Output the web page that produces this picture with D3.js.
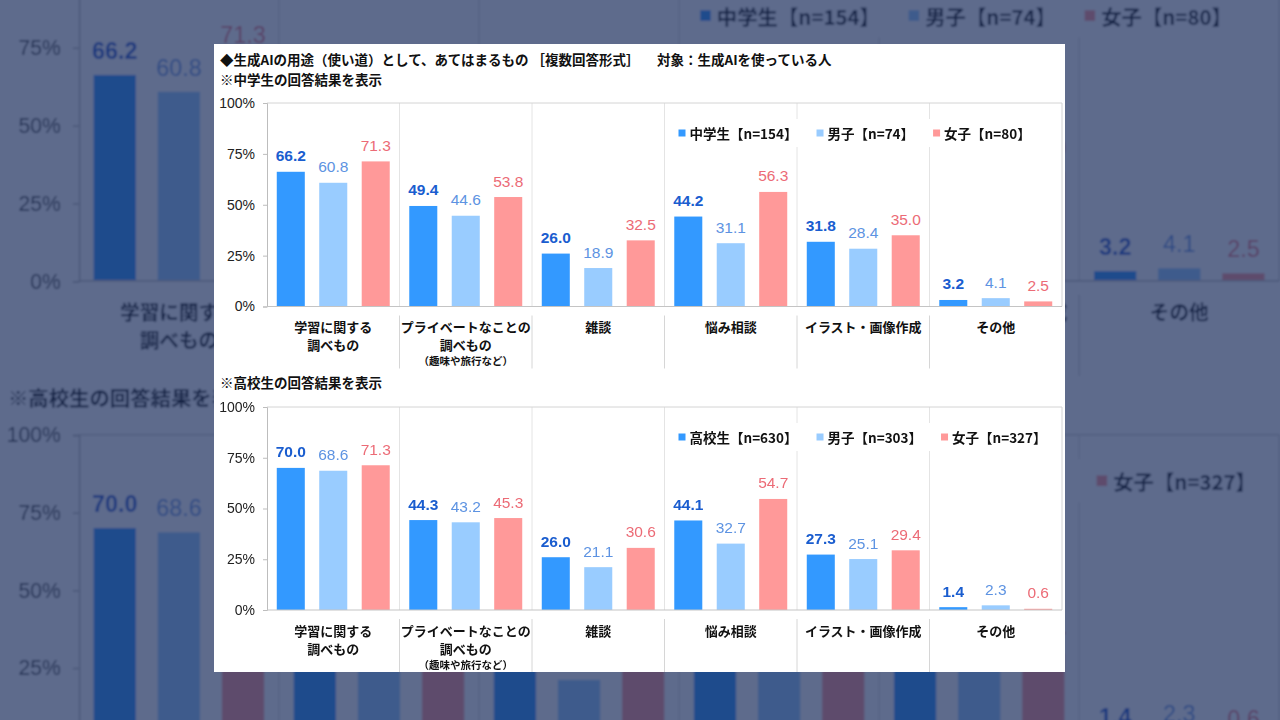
<!DOCTYPE html>
<html>
<head>
<meta charset="utf-8">
<script src="https://cdn.jsdelivr.net/npm/d3@7"></script>
<style>
  html, body { margin: 0; padding: 0; background: #fff; }
  svg { display: block; }
</style>
</head>
<body>
<div id="chart"></div>
<script>
// chart data
var categories = [
  ["学習に関する", "調べもの"],
  ["プライベートなことの", "調べもの", "（趣味や旅行など）"],
  ["雑談"],
  ["悩み相談"],
  ["イラスト・画像作成"],
  ["その他"]
];
var yTicks = [0, 25, 50, 75, 100];

var titleText = "◆生成AIの用途（使い道）として、あてはまるもの ［複数回答形式］";
var targetText = "対象：生成AIを使っている人";
var jhsSubtitle = "※中学生の回答結果を表示";
var hsSubtitle = "※高校生の回答結果を表示";

var jhsSeries = ["中学生【n=154】", "男子【n=74】", "女子【n=80】"];
var jhsTotal = [66.2, 49.4, 26.0, 44.2, 31.8, 3.2];
var jhsBoys  = [60.8, 44.6, 18.9, 31.1, 28.4, 4.1];
var jhsGirls = [71.3, 53.8, 32.5, 56.3, 35.0, 2.5];

var hsSeries = ["高校生【n=630】", "男子【n=303】", "女子【n=327】"];
var hsTotal = [70.0, 44.3, 26.0, 44.1, 27.3, 1.4];
var hsBoys  = [68.6, 43.2, 21.1, 32.7, 25.1, 2.3];
var hsGirls = [71.3, 45.3, 30.6, 54.7, 29.4, 0.6];

var W = 1280, H = 720;
var panel = { x: 214, y: 44, w: 851, h: 628 };
var plotLeft = 267, plotRight = 1062;

var barColors = ["#3399ff", "#99ccff", "#ff9999"];
var labelColors = ["#1a5dcf", "#5d93e2", "#ec6b76"];
var labelWeights = ["bold", "normal", "normal"];
var jpFont = "'Noto Sans CJK JP', 'Noto Sans', sans-serif";
var numFont = "'Liberation Sans', Arial, sans-serif";

var svg = d3.select("#chart").append("svg")
  .attr("width", W)
  .attr("height", H);

var defs = svg.append("defs");
defs.append("filter").attr("id", "soft")
  .attr("x", "-5%").attr("y", "-5%").attr("width", "110%").attr("height", "110%")
  .append("feGaussianBlur").attr("stdDeviation", 1);

function drawChart(g, plotTop, plotBottom, seriesNames, seriesValues) {
  var x = d3.scaleBand()
    .domain(d3.range(categories.length))
    .range([plotLeft, plotRight]);
  var xi = d3.scaleBand()
    .domain(d3.range(seriesNames.length))
    .range([0, x.bandwidth()])
    .paddingInner(0.34)
    .paddingOuter(0.23);
  var y = d3.scaleLinear().domain([0, 100]).range([plotBottom, plotTop]);

  // category dividers inside the plot
  g.selectAll(null).data(d3.range(1, categories.length)).join("line")
    .attr("x1", function(d) { return x(d); })
    .attr("x2", function(d) { return x(d); })
    .attr("y1", plotTop)
    .attr("y2", plotBottom)
    .attr("stroke", "#e4e4e4");

  // dividers under the axis, between the category names
  g.selectAll(null).data(d3.range(1, categories.length)).join("line")
    .attr("x1", function(d) { return x(d); })
    .attr("x2", function(d) { return x(d); })
    .attr("y1", plotBottom + 9)
    .attr("y2", plotBottom + 62)
    .attr("stroke", "#d6d6d6");

  // plot frame (top and right)
  g.append("line")
    .attr("x1", plotLeft).attr("x2", plotRight)
    .attr("y1", y(100)).attr("y2", y(100))
    .attr("stroke", "#d4d4d4");
  g.append("line")
    .attr("x1", plotRight).attr("x2", plotRight)
    .attr("y1", y(100)).attr("y2", plotBottom)
    .attr("stroke", "#d4d4d4");

  // legend box hides the dividers behind it
  var legendY = plotTop + 30;
  g.append("rect")
    .attr("x", x(3) + 4)
    .attr("y", legendY - 14)
    .attr("width", plotRight - x(3) - 5)
    .attr("height", 28)
    .attr("fill", "#fff");

  // bars
  seriesValues.forEach(function(vals, s) {
    g.selectAll(null).data(vals).join("rect")
      .attr("x", function(d, i) { return x(i) + xi(s); })
      .attr("y", function(d) { return y(d); })
      .attr("width", xi.bandwidth())
      .attr("height", function(d) { return y(0) - y(d); })
      .attr("fill", barColors[s]);

    g.selectAll(null).data(vals).join("text")
      .attr("x", function(d, i) { return x(i) + xi(s) + xi.bandwidth() / 2; })
      .attr("y", function(d) { return y(d) - 10.5; })
      .attr("text-anchor", "middle")
      .attr("font-family", numFont)
      .attr("font-size", 15.5)
      .attr("font-weight", labelWeights[s])
      .attr("fill", labelColors[s])
      .text(function(d) { return d.toFixed(1); });
  });

  // y axis
  var yAxis = d3.axisLeft(y)
    .tickValues(yTicks)
    .tickFormat(function(d) { return d + "%"; })
    .tickSize(4)
    .tickPadding(8);
  var ya = g.append("g")
    .attr("transform", "translate(" + plotLeft + ",0)")
    .call(yAxis);
  ya.select(".domain").attr("stroke", "#bdbdbd");
  ya.selectAll(".tick line").attr("stroke", "#bdbdbd");
  ya.selectAll(".tick text")
    .attr("font-family", numFont)
    .attr("font-size", 14)
    .attr("fill", "#222");

  // x axis line
  g.append("line")
    .attr("x1", plotLeft).attr("x2", plotRight)
    .attr("y1", y(0)).attr("y2", y(0))
    .attr("stroke", "#c4c4c4");

  // category names
  var cat = g.selectAll(null).data(categories).join("g")
    .attr("transform", function(d, i) {
      return "translate(" + (x(i) + x.bandwidth() / 2) + "," + plotBottom + ")";
    });
  cat.selectAll("text").data(function(d) { return d; }).join("text")
    .attr("x", 0)
    .attr("y", function(d, j) { return [20, 38, 54][j]; })
    .attr("dominant-baseline", "central")
    .attr("text-anchor", "middle")
    .attr("font-family", jpFont)
    .attr("font-weight", "bold")
    .attr("font-size", function(d, j) { return j === 2 ? 10.5 : 13; })
    .attr("fill", "#111")
    .text(function(d) { return d; });

  // legend
  var lx = x(3) + 14;
  seriesNames.forEach(function(name, s) {
    g.append("rect")
      .attr("x", lx)
      .attr("y", legendY - 3.5)
      .attr("width", 7)
      .attr("height", 7)
      .attr("fill", barColors[s]);
    var t = g.append("text")
      .attr("x", lx + 11)
      .attr("y", legendY)
      .attr("dominant-baseline", "central")
      .attr("font-family", jpFont)
      .attr("font-weight", "bold")
      .attr("font-size", 13.5)
      .attr("fill", "#111")
      .text(name);
    lx += 11 + t.node().getComputedTextLength() + 19;
  });
}

function drawPanel(root) {
  root.append("rect")
    .attr("x", panel.x).attr("y", panel.y)
    .attr("width", panel.w).attr("height", panel.h)
    .attr("fill", "#fff");

  function heading(x, y, txt) {
    root.append("text")
      .attr("x", x).attr("y", y)
      .attr("dominant-baseline", "central")
      .attr("font-family", jpFont)
      .attr("font-weight", "bold")
      .attr("font-size", 13.5)
      .attr("fill", "#111")
      .text(txt);
  }
  heading(220, 59, titleText);
  heading(657, 59, targetText);
  heading(220, 79, jhsSubtitle);
  heading(220, 382, hsSubtitle);

  drawChart(root.append("g"), 103, 306.5, jhsSeries, [jhsTotal, jhsBoys, jhsGirls]);
  drawChart(root.append("g"), 407, 610, hsSeries, [hsTotal, hsBoys, hsGirls]);
}

// enlarged, dimmed copy behind
var back = svg.append("g")
  .attr("filter", "url(#soft)")
  .append("g")
  .attr("transform", "translate(-324.3,-187.9) scale(1.51,1.53)");
drawPanel(back);
svg.append("rect")
  .attr("width", W).attr("height", H)
  .attr("fill", "rgb(22,40,88)")
  .attr("fill-opacity", 0.69);

// the chart itself
drawPanel(svg.append("g"));
</script>
</body>
</html>
